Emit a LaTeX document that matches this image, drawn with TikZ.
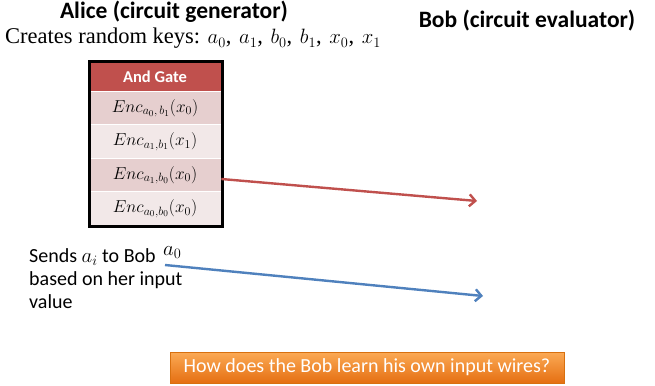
\documentclass[tikz,border=0pt]{standalone}
\usepackage{fontspec}
\setmainfont{Liberation Serif}
\newfontfamily\calib{Carlito}
\usetikzlibrary{arrows.meta,positioning}
\definecolor{hdr}{HTML}{C0504D}
\definecolor{rowdark}{HTML}{E6CFCF}
\definecolor{rowlight}{HTML}{F2E8E8}
\definecolor{bluearr}{HTML}{4F81BD}
\definecolor{orangetop}{HTML}{FBAA55}
\definecolor{orangebot}{HTML}{E56F12}
\definecolor{orangeedge}{HTML}{D8700F}
\tikzset{
  cell/.style={minimum width=132pt, minimum height=33.5pt, inner sep=0pt, font=\fontsize{17.5}{20}\selectfont, draw=white, line width=0.8pt},
  title/.style={font=\calib\bfseries\fontsize{23.5}{26}\selectfont, inner sep=0pt, anchor=base},
  arr/.style={line width=2.4pt, -{Straight Barb[length=6pt,width=12pt,line width=2.4pt]}},
}
\begin{document}
\begin{tikzpicture}[x=1pt,y=-1pt]
\useasboundingbox[fill=white] (0,0) rectangle (655,385);
\node[title] (alice) at (174,19) {Alice (circuit generator)};
\node[title] (bob) at (527,28) {Bob (circuit evaluator)};
\node[inner sep=0pt, anchor=base west, font=\fontsize{22.5}{24}\selectfont] (keys) at (5,44) {Creates random keys: $a_0$,\kern2pt{} $a_1$,\kern2pt{} $b_0$,\kern2pt{} $b_1$,\kern2pt{} $x_0$,\kern2pt{} $x_1$};
\node[cell, fill=hdr, minimum height=29pt, font=\calib\bfseries\fontsize{16.5}{18}\selectfont, text=white] (hd) at (155,76.5) {And Gate};
\node[cell, fill=rowdark] (r1) at (155,108) {$Enc_{a_0,\,b_1}(x_0)$};
\node[cell, fill=rowlight] (r2) at (155,141.5) {$Enc_{a_1,b_1}(x_1)$};
\node[cell, fill=rowdark] (r3) at (155,175) {$Enc_{a_1,b_0}(x_0)$};
\node[cell, fill=rowlight] (r4) at (155,208.5) {$Enc_{a_0,b_0}(x_0)$};
\draw[line width=3pt] (89,62) rectangle (222,226);
\coordinate (redend) at (477,201);
\draw[arr, draw=hdr] ([yshift=-4pt]r3.east) -- (redend);
\node[inner sep=0pt, anchor=base west, font=\fontsize{20}{22}\selectfont] (a0) at (163,255) {$a_0$};
\coordinate (bluestart) at (165,265);
\coordinate (blueend) at (483,296);
\draw[arr, draw=bluearr] (bluestart) -- (blueend);
\node[inner sep=0pt, anchor=base west, align=left, font=\calib\fontsize{20}{23}\selectfont] (sends) at (29,308) {Sends $a_i$ to Bob\\based on her input\\value};
\node[inner sep=0pt, minimum width=394pt, minimum height=31pt, top color=orangetop, bottom color=orangebot, draw=orangeedge, line width=0.6pt, text=white, font=\calib\fontsize{20}{22}\selectfont] (btn) at (367,367.5) {How does the Bob learn his own input wires?};
\end{tikzpicture}
\end{document}
